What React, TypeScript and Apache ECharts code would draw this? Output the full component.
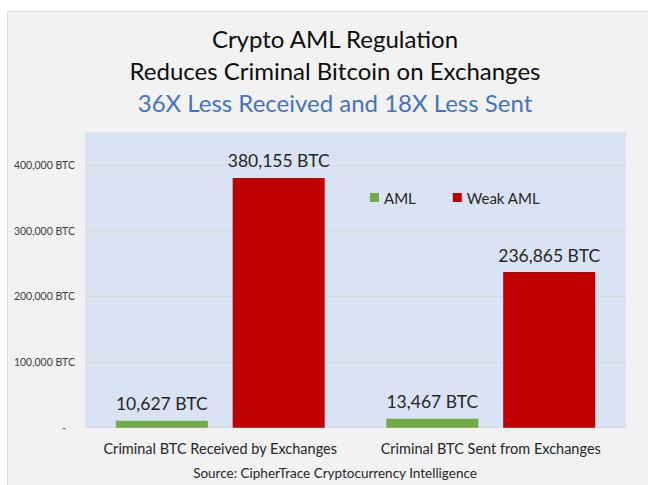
import React, { useEffect, useRef } from "react";
import * as echarts from "echarts";

const categories = ["Criminal BTC Received by Exchanges", "Criminal BTC Sent from Exchanges"];
const amlValues = [10627, 13467];
const weakAmlValues = [380155, 236865];
const seriesNames = ["AML", "Weak AML"];
const titleLines = ["Crypto AML Regulation", "Reduces Criminal Bitcoin on Exchanges"];
const subtitle = "36X Less Received and 18X Less Sent";
const sourceText = "Source: CipherTrace Cryptocurrency Intelligence";

const FONT = "Lato, 'Noto Sans', sans-serif";

function fmtBTC(v: number): string {
  return v.toLocaleString("en-US") + " BTC";
}

export default function App() {
  const ref = useRef<HTMLDivElement>(null);
  useEffect(() => {
    if (!ref.current) return;
    const chart = echarts.init(ref.current, null, { renderer: "svg" });
    const labelCfg = {
      show: true,
      position: "top",
      distance: 8,
      fontSize: 17.5,
      fontFamily: FONT,
      color: "#262626",
      formatter: (p: any) => fmtBTC(p.value),
    };
    chart.setOption({
      animation: false,
      backgroundColor: "#ffffff",
      textStyle: { fontFamily: FONT },
      graphic: [
        {
          type: "rect",
          z: -100,
          shape: { x: 7.5, y: 11.5, width: 660, height: 500 },
          style: { fill: "#f2f2f2", stroke: "#d9d9d9", lineWidth: 1 },
        },
        {
          type: "text",
          x: 335,
          y: 38,
          style: { text: titleLines[0], fontSize: 24, fontFamily: FONT, fill: "#0d0d0d", textAlign: "center", textVerticalAlign: "middle" },
        },
        {
          type: "text",
          x: 335,
          y: 70,
          style: { text: titleLines[1], fontSize: 24, fontFamily: FONT, fill: "#0d0d0d", textAlign: "center", textVerticalAlign: "middle" },
        },
        {
          type: "text",
          x: 335,
          y: 102,
          style: { text: subtitle, fontSize: 24, fontFamily: FONT, fill: "#4472c4", textAlign: "center", textVerticalAlign: "middle" },
        },
        {
          type: "text",
          x: 335,
          y: 473,
          style: { text: sourceText, fontSize: 13.5, fontFamily: FONT, fill: "#262626", textAlign: "center", textVerticalAlign: "middle" },
        },
      ],
      legend: {
        left: 370,
        top: 190,
        padding: 0,
        itemWidth: 9,
        itemHeight: 9,
        itemGap: 37,
        icon: "rect",
        textStyle: { fontSize: 15, color: "#262626", fontFamily: FONT },
        data: seriesNames,
      },
      grid: {
        left: 85,
        right: 22,
        top: 132,
        bottom: 57.3,
        show: true,
        backgroundColor: "#dae3f3",
        borderWidth: 0,
      },
      xAxis: {
        type: "category",
        data: categories,
        axisTick: { show: false },
        axisLine: { show: true, lineStyle: { color: "#d9d9d9" } },
        axisLabel: { interval: 0, fontSize: 14.5, color: "#262626", margin: 13, fontFamily: FONT },
      },
      yAxis: {
        type: "value",
        min: 0,
        max: 450000,
        interval: 100000,
        axisLine: { show: false },
        axisTick: { show: false },
        splitLine: { show: true, showMaxLine: false, lineStyle: { color: "#d9d9d9" } },
        axisLabel: {
          showMaxLabel: false,
          margin: 10,
          fontSize: 10.5,
          color: "#404040",
          fontFamily: FONT,
          formatter: (v: number) => (v === 0 ? "{z|-}" : fmtBTC(v)),
          rich: { z: { padding: [0, 9, 0, 0], fontSize: 11, color: "#404040" } },
        },
      },
      series: [
        {
          name: seriesNames[0],
          type: "bar",
          data: amlValues,
          barWidth: 92,
          barGap: "27%",
          itemStyle: { color: "#70ad47" },
          label: labelCfg,
        },
        {
          name: seriesNames[1],
          type: "bar",
          data: weakAmlValues,
          barWidth: 92,
          barGap: "27%",
          itemStyle: { color: "#c00000" },
          label: labelCfg,
        },
      ],
    });
    return () => chart.dispose();
  }, []);
  return <div ref={ref} style={{ position: "absolute", left: 0, top: 0, width: 648, height: 485 }} />;
}
